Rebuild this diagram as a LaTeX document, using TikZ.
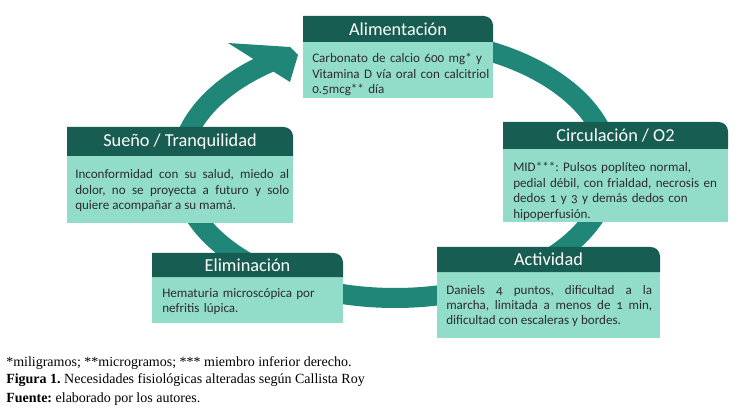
\documentclass[tikz,border=0pt]{standalone}
\usepackage{fontspec}
\setmainfont{Carlito}
\newfontfamily\bodyfont[Numbers=OldStyle]{Carlito}
\newfontfamily\capfont{Liberation Serif}
\definecolor{hdrc}{RGB}{24,93,82}
\definecolor{bodyc}{RGB}{146,220,202}
\definecolor{bandc}{RGB}{32,135,120}
\definecolor{txtc}{RGB}{45,45,45}
\newcommand\cyclebox[7]{%
  \fill[bodyc] (#2,#5) rectangle (#4,#6);
  \fill[hdrc] (#2,#5) -- (#2,#3) [rounded corners=7pt] -- (#4,#3) [sharp corners] -- (#4,#5) -- cycle;
  \node[hdrtext] (#1) at ({(#2+#4)/2},{(#3+#5)/2}) {#7};
}
\begin{document}
\begin{tikzpicture}[x=0.75pt,y=-0.75pt,
  hdrtext/.style={text=white, font=\fontsize{13.7}{16}\selectfont, inner sep=0pt},
  bodytext/.style={text=txtc, font=\bodyfont\fontsize{9.8}{11.6}\selectfont\frenchspacing, inner sep=0pt, anchor=base west},
  captext/.style={text=black, font=\capfont\fontsize{10.5}{12}\selectfont\frenchspacing, inner sep=0pt, anchor=base west},
  band/.style={draw=bandc, line width=15pt}]
\fill[white] (0,0) rectangle (755,409);
\useasboundingbox (0,0) rectangle (755,409);
% cycle ring
\draw[band] plot[domain=0:316.1, samples=220, smooth] ({395+215*cos(80-\x)},{168-130*sin(80-\x)});
\fill[bandc] (228,43) -- (290,47) -- (298,55) -- (290,82) -- cycle;
% boxes
\cyclebox{alim}{303}{16}{493}{42}{98}{Alimentación}
\cyclebox{circ}{503}{122}{728}{149}{222}{Circulación / O2}
\cyclebox{acti}{437}{247}{660}{272}{338}{Actividad}
\cyclebox{elim}{152}{253}{343}{277}{323}{Eliminación}
\cyclebox{suen}{67}{127}{293}{156}{223}{Sueño / Tranquilidad}
% body texts
\node[bodytext, text width=140pt, align=left] (alimt) at (312,63)
  {Carbonato de calcio 600 mg* y\\Vitamina D vía oral con calcitriol\\0.5mcg** día};
\node[bodytext, text width=160pt, align=left] (circt) at (513,172)
  {MID***: Pulsos poplíteo normal,\\pedial débil, con frialdad, necrosis en\\dedos 1 y 3 y demás dedos con\\hipoperfusión.};
\node[bodytext, text width=154.5pt, align=justify] (actit) at (446,294)
  {Daniels 4 puntos, dificultad a la\linebreak marcha, limitada a menos de 1 min,\linebreak dificultad con escaleras y bordes.};
\node[bodytext, text width=140pt, align=left] (elimt) at (162,297)
  {Hematuria microscópica por\\nefritis lúpica.};
\node[bodytext, text width=160.5pt, align=justify] (suent) at (75,179)
  {Inconformidad con su salud, miedo al\linebreak dolor, no se proyecta a futuro y solo\linebreak quiere acompañar a su mamá.};
% caption
\node[captext] (cap1) at (6,366) {*miligramos; **microgramos; *** miembro inferior derecho.};
\node[captext] (cap2) at (6,383) {\textbf{Figura 1.} Necesidades fisiológicas alteradas según Callista Roy};
\node[captext] (cap3) at (6,402) {\textbf{Fuente:} elaborado por los autores.};
\end{tikzpicture}
\end{document}
